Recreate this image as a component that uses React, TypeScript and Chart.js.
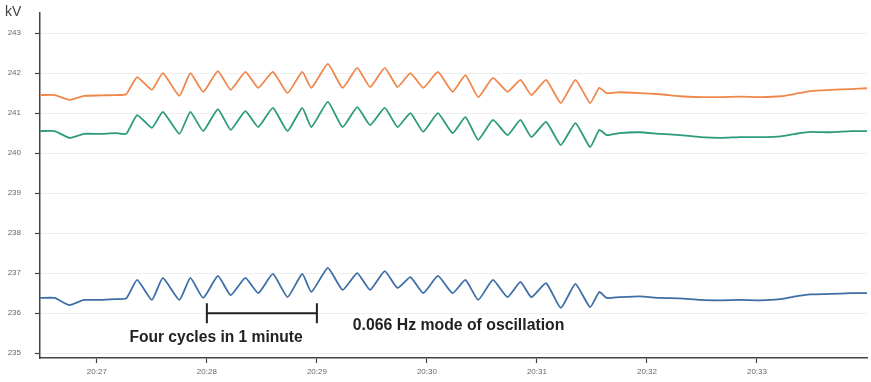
import React, { useEffect, useRef } from "react";
import { Chart, registerables } from "chart.js";

Chart.register(...registerables);

// time in seconds after 20:26:00
const times = [
  29, 37, 45, 53, 62, 70, 76,
  82, 90, 96, 105, 111, 118, 126, 133, 141, 148, 156, 164, 172, 177,
  186, 194, 202, 209, 217, 224, 231, 238, 246, 254, 261, 268, 276, 284,
  291, 297, 305, 313, 321, 329, 334, 338,
  345, 356, 367, 378, 389, 400, 411, 422, 433, 441, 449, 460, 471, 480,
];

const phaseA = [
  241.45, 241.45, 241.33, 241.43, 241.44, 241.45, 241.47,
  241.9, 241.58, 242.0, 241.43, 242.0, 241.53, 242.05, 241.58, 242.03, 241.63, 242.03, 241.5, 242.03, 241.63,
  242.23, 241.63, 242.13, 241.65, 242.13, 241.65, 242.0, 241.63, 242.03, 241.53, 241.95, 241.4, 241.88, 241.53,
  241.83, 241.45, 241.83, 241.25, 241.83, 241.25, 241.63, 241.5,
  241.52, 241.5, 241.47, 241.42, 241.4, 241.4, 241.41, 241.4, 241.42, 241.48, 241.55, 241.58, 241.6, 241.62,
];

const phaseB = [
  240.55, 240.55, 240.38, 240.48, 240.48, 240.5, 240.48,
  240.95, 240.63, 241.03, 240.48, 241.03, 240.55, 241.1, 240.58, 241.05, 240.65, 241.13, 240.55, 241.13, 240.65,
  241.28, 240.65, 241.15, 240.7, 241.13, 240.65, 241.0, 240.53, 241.0, 240.5, 240.9, 240.33, 240.83, 240.45,
  240.83, 240.4, 240.78, 240.2, 240.75, 240.15, 240.58, 240.45,
  240.5, 240.52, 240.48, 240.45, 240.4, 240.38, 240.4, 240.4, 240.42, 240.48, 240.53, 240.52, 240.55, 240.55,
];

const phaseC = [
  236.38, 236.38, 236.2, 236.33, 236.33, 236.35, 236.37,
  236.83, 236.33, 236.88, 236.33, 236.88, 236.38, 236.93, 236.45, 236.88, 236.5, 236.98, 236.4, 236.98, 236.53,
  237.13, 236.58, 237.0, 236.58, 237.05, 236.63, 236.9, 236.5, 236.93, 236.5, 236.83, 236.33, 236.83, 236.4,
  236.78, 236.4, 236.75, 236.13, 236.73, 236.15, 236.53, 236.38,
  236.4, 236.42, 236.38, 236.37, 236.33, 236.32, 236.33, 236.32, 236.35, 236.42, 236.47, 236.48, 236.5, 236.5,
];

const yTicks = [235, 236, 237, 238, 239, 240, 241, 242, 243];
const xTicks = [60, 120, 180, 240, 300, 360, 420];
const xTickLabels = ["20:27", "20:28", "20:29", "20:30", "20:31", "20:32", "20:33"];

const bracketStart = 120;
const bracketEnd = 180;
const bracketLevel = 236.0;
const noteLeft = "Four cycles in 1 minute";
const noteRight = "0.066 Hz mode of oscillation";

const annotations = {
  id: "annotations",
  afterDatasetsDraw(chart: any) {
    const { ctx, scales } = chart;
    const xs = scales.x;
    const ys = scales.y;
    ctx.save();
    // kV unit label
    ctx.fillStyle = "#444";
    ctx.font = "14px Arial, 'Liberation Sans', sans-serif";
    ctx.textAlign = "left";
    ctx.textBaseline = "middle";
    ctx.fillText("kV", 5, 12);
    // bracket
    const x1 = xs.getPixelForValue(bracketStart);
    const x2 = xs.getPixelForValue(bracketEnd);
    const yb = ys.getPixelForValue(bracketLevel);
    const yt = ys.getPixelForValue(bracketLevel + 0.25);
    const ybot = ys.getPixelForValue(bracketLevel - 0.25);
    ctx.strokeStyle = "#222";
    ctx.lineWidth = 2;
    ctx.beginPath();
    ctx.moveTo(x1, yb);
    ctx.lineTo(x2, yb);
    ctx.moveTo(x1, yt);
    ctx.lineTo(x1, ybot);
    ctx.moveTo(x2, yt);
    ctx.lineTo(x2, ybot);
    ctx.stroke();
    // texts
    ctx.fillStyle = "#222";
    ctx.font = "bold 15.6px Arial, 'Liberation Sans', sans-serif";
    ctx.textAlign = "center";
    ctx.fillText(noteLeft, xs.getPixelForValue(125), ys.getPixelForValue(235.4));
    ctx.font = "bold 15.8px Arial, 'Liberation Sans', sans-serif";
    ctx.textAlign = "left";
    ctx.fillText(noteRight, xs.getPixelForValue(199.6), ys.getPixelForValue(235.7));
    ctx.restore();
  },
};

export default function App() {
  const ref = useRef<HTMLCanvasElement | null>(null);
  useEffect(() => {
    if (!ref.current) return;
    const mk = (vals: number[], color: string) => ({
      data: times.map((t, i) => ({ x: t, y: vals[i] })),
      borderColor: color,
      borderWidth: 1.8,
      pointRadius: 0,
      tension: 0.15,
      fill: false,
    });
    const chart = new Chart(ref.current, {
      type: "line",
      data: {
        datasets: [
          mk(phaseA, "#f0874a"),
          mk(phaseB, "#2c9a7c"),
          mk(phaseC, "#3d6ea6"),
        ],
      },
      options: {
        animation: false,
        responsive: false,
        maintainAspectRatio: false,
        layout: { padding: { top: 13, right: 4, left: 0, bottom: 0 } },
        plugins: { legend: { display: false }, tooltip: { enabled: false } },
        scales: {
          x: {
            type: "linear",
            min: 29,
            max: 480,
            afterBuildTicks: (axis: any) => {
              axis.ticks = xTicks.map((v) => ({ value: v }));
            },
            afterFit: (axis: any) => {
              axis.height = 24;
              axis.paddingLeft = 0;
              axis.paddingRight = 0;
            },
            ticks: {
              autoSkip: false,
              maxRotation: 0,
              padding: 4,
              color: "#666",
              font: { size: 8, family: "Arial, 'Liberation Sans', sans-serif" },
              callback: (v: any) => {
                const i = xTicks.indexOf(Number(v));
                return i >= 0 ? xTickLabels[i] : "";
              },
            },
            grid: {
              drawOnChartArea: false,
              drawTicks: true,
              tickLength: 5,
              tickColor: "#444",
              tickWidth: 1.2,
            },
            border: { color: "#444", width: 1.5 },
          },
          y: {
            type: "linear",
            min: 234.88,
            max: 243.5,
            afterBuildTicks: (axis: any) => {
              axis.ticks = yTicks.map((v) => ({ value: v }));
            },
            afterFit: (axis: any) => {
              axis.width = 40;
              axis.paddingTop = 0;
              axis.paddingBottom = 0;
            },
            ticks: {
              autoSkip: false,
              padding: 14,
              color: "#666",
              font: { size: 8, family: "Arial, 'Liberation Sans', sans-serif" },
              callback: (v: any) => String(v),
            },
            grid: {
              color: "#eeeeee",
              lineWidth: 1,
              drawTicks: true,
              tickLength: 5,
              tickColor: "#444",
              tickWidth: 1.2,
            },
            border: { color: "#444", width: 1.5 },
          },
        },
      },
      plugins: [annotations],
    });
    return () => chart.destroy();
  }, []);
  return (
    <div style={{ position: "absolute", left: 0, top: 0, width: 871, height: 382, background: "#fff" }}>
      <canvas ref={ref} width={871} height={382} style={{ width: 871, height: 382, display: "block" }} />
    </div>
  );
}
